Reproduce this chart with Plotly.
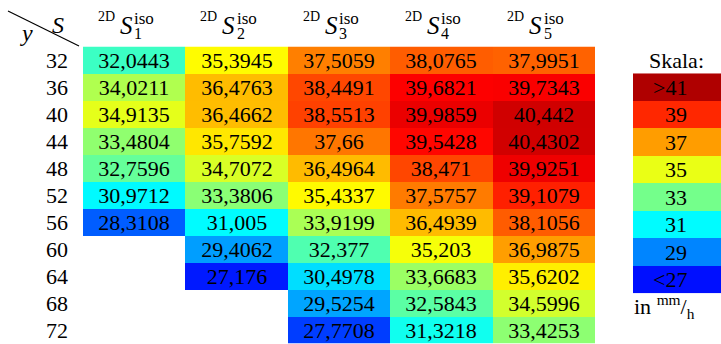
import plotly.graph_objects as go

W, H = 721, 344

# ---- data ----
y_labels = ["32", "36", "40", "44", "48", "52", "56", "60", "64", "68", "72"]
col_subs = ["1", "2", "3", "4", "5"]
S1 = [32.0443, 34.0211, 34.9135, 33.4804, 32.7596, 30.9712, 28.3108, None, None, None, None]
S2 = [35.3945, 36.4763, 36.4662, 35.7592, 34.7072, 33.3806, 31.005, 29.4062, 27.176, None, None]
S3 = [37.5059, 38.4491, 38.5513, 37.66, 36.4964, 35.4337, 33.9199, 32.377, 30.4978, 29.5254, 27.7708]
S4 = [38.0765, 39.6821, 39.9859, 39.5428, 38.471, 37.5757, 36.4939, 35.203, 33.6683, 32.5843, 31.3218]
S5 = [37.9951, 39.7343, 40.442, 40.4302, 39.9251, 39.1079, 38.1056, 36.9875, 35.6202, 34.5996, 33.4253]
scale_values = [41, 39, 37, 35, 33, 31, 29, 27]
scale_labels = [">41", "39", "37", "35", "33", "31", "29", "<27"]

cols = [S1, S2, S3, S4, S5]

# ---- styling ----
FONT = "Liberation Serif, Times New Roman, Times, serif"
ZMIN, ZMAX = 24.6, 41.8
jet = [[0.0, "#000080"], [0.125, "#0000ff"], [0.375, "#00ffff"],
       [0.625, "#ffff00"], [0.875, "#ff0000"], [1.0, "#800000"]]


def px(x):
    return x / W


def py(y):
    return 1 - y / H


def ann(x, y, text, size, xref="paper", yref="paper", xanchor="center", **kw):
    return dict(x=x, y=y, xref=xref, yref=yref, text=text, showarrow=False,
                xanchor=xanchor, yanchor="middle",
                font=dict(family=FONT, size=size, color="black"), **kw)


z = [[cols[c][r] for c in range(5)] for r in range(len(y_labels))]
txt = [["" if v is None else str(v).replace(".", ",") for v in row] for row in z]

fig = go.Figure()
fig.add_trace(go.Heatmap(
    z=z, x=list(range(5)), y=y_labels, text=txt, texttemplate="%{text}",
    textfont=dict(family=FONT, size=22, color="black"),
    colorscale=jet, zmin=ZMIN, zmax=ZMAX, showscale=False, hoverinfo="skip",
    xaxis="x", yaxis="y"))

fig.add_trace(go.Heatmap(
    z=[[v] for v in scale_values], x=[0], y=list(range(len(scale_values))),
    colorscale=jet, zmin=ZMIN, zmax=ZMAX, showscale=False, hoverinfo="skip",
    xaxis="x2", yaxis="y2"))

annotations = []
for c, sub in enumerate(col_subs):
    annotations += [
        ann(c, py(17), "2D", 14, xref="x", xshift=-28),
        ann(c, py(25), "<i>S</i>", 25, xref="x", xshift=-8),
        ann(c, py(19), "iso", 17, xref="x", xanchor="left", xshift=-2),
        ann(c, py(34), sub, 16, xref="x", xanchor="left", xshift=-2),
    ]

for i, lab in enumerate(scale_labels):
    annotations.append(ann(px(689), i, lab, 22, yref="y2", xanchor="right"))

annotations += [
    ann(px(676), py(61), "Skala:", 22),
    ann(px(632), py(306), "in <sup>mm</sup>/<sub>h</sub>", 22, xanchor="left"),
    ann(px(58), py(25), "<i>S</i>", 24),
    ann(px(27), py(33), "<i>y</i>", 24),
]

fig.update_layout(
    width=W, height=H, margin=dict(l=0, r=0, t=0, b=0),
    paper_bgcolor="white", plot_bgcolor="white",
    font=dict(family=FONT, color="black"),
    xaxis=dict(domain=[px(83), px(595)], range=[-0.5, 4.5], showticklabels=False,
               showgrid=False, zeroline=False, fixedrange=True),
    yaxis=dict(domain=[py(343.5), py(46.5)], type="category", autorange="reversed",
               showgrid=False, zeroline=False, ticks="", ticklabelstandoff=14,
               tickfont=dict(family=FONT, size=22, color="black")),
    xaxis2=dict(domain=[px(633), 1.0], range=[-0.5, 0.5], showticklabels=False,
                showgrid=False, zeroline=False, anchor="y2"),
    yaxis2=dict(domain=[py(293.3), py(73.3)], range=[7.5, -0.5], showticklabels=False,
                showgrid=False, zeroline=False, anchor="x2"),
    annotations=annotations,
    shapes=[dict(type="line", xref="paper", yref="paper", x0=px(8), y0=py(11),
                 x1=px(79), y1=py(46), line=dict(color="black", width=1.2))],
)

fig.write_html("out.html", config={"displayModeBar": False},
               post_script="document.body.style.margin='0';document.body.style.overflow='hidden';")
